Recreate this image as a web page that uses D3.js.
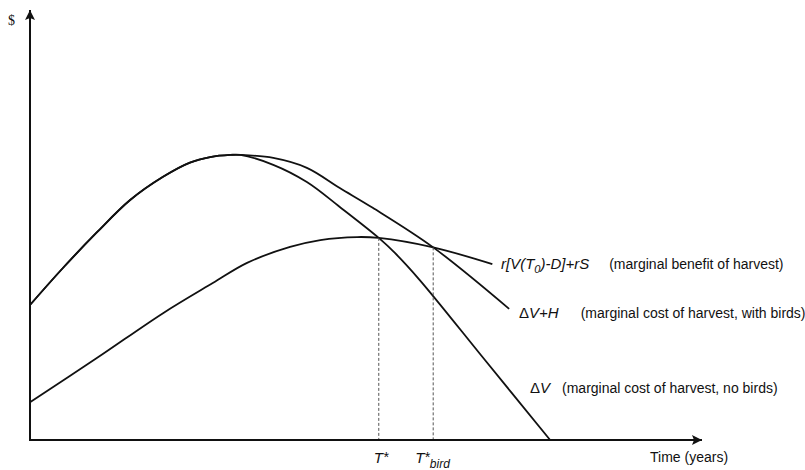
<!DOCTYPE html>
<html><head><meta charset="utf-8">
<script src="https://cdn.jsdelivr.net/npm/d3@7"></script>
<style>
body{margin:0;background:#fff;}
text{font-family:"Liberation Sans Narrow","Arial Narrow","Liberation Sans",sans-serif;fill:#111;}
</style></head>
<body><svg id="c" width="805" height="470"></svg>
<script>
// Time (0-100 arbitrary units) and $ (0-100 arbitrary units)
const sharedT = [0, 4.9, 9.9, 14.9, 19.8, 23.8, 26.8, 29.8, 31.3];
const sharedV = [31.4, 40.0, 48.2, 55.8, 61.2, 64.5, 65.8, 66.3, 66.3];
const dvT = [36.2, 41.2, 46.1, 51.9, 54.3, 58.0, 67.7, 77.4];
const dvV = [64.0, 60.0, 54.2, 47.0, 43.5, 37.2, 18.6, 0];
const dvhT = [36.2, 41.2, 46.1, 51.0, 60.0, 71.3];
const dvhV = [65.6, 63.3, 58.6, 54.0, 44.8, 30.5];
const benT = [0, 10.0, 19.8, 27.2, 32.3, 38.7, 43.2, 48.7, 51.9, 60.0, 68.8];
const benV = [8.8, 19.1, 29.5, 36.5, 41.2, 44.9, 46.5, 47.2, 47.0, 44.8, 40.9];
const tStar = 51.9, tBird = 60.0, vStar = 47.0, vBird = 44.8;
const xLabel = "Time (years)";
const yLabel = "$";

const svg = d3.select("#c");
const x = d3.scaleLinear().domain([0, 100]).range([30, 702]);
const y = d3.scaleLinear().domain([0, 100]).range([440, 10]);

const defs = svg.append("defs");
defs.append("marker").attr("id","arr").attr("viewBox","0 0 10 10")
  .attr("refX",10).attr("refY",5).attr("markerWidth",10).attr("markerHeight",10)
  .attr("markerUnits","userSpaceOnUse").attr("orient","auto")
  .append("path").attr("d","M0,0 L10,5 L0,10 L2,5 Z").attr("fill","#111");

const zip = (a,b)=>a.map((t,i)=>[t,b[i]]);
const line = d3.line().x(d=>x(d[0])).y(d=>y(d[1])).curve(d3.curveCatmullRom.alpha(0.5));
const curves = [
  zip(sharedT.concat(dvT), sharedV.concat(dvV)),
  zip(sharedT.concat(dvhT), sharedV.concat(dvhV)),
  zip(benT, benV)
];
svg.selectAll("path.curve").data(curves).join("path").attr("class","curve")
  .attr("d", line).attr("fill","none").attr("stroke","#111").attr("stroke-width",1.8);

// dashed drop lines
svg.selectAll("line.drop").data([[tStar,vStar],[tBird,vBird]]).join("line").attr("class","drop")
  .attr("x1",d=>x(d[0])).attr("x2",d=>x(d[0])).attr("y1",d=>y(d[1])).attr("y2",y(0))
  .attr("stroke","#555").attr("stroke-width",1).attr("stroke-dasharray","3,2");

// axes
svg.append("line").attr("x1",x(0)).attr("y1",y(0)).attr("x2",x(0)).attr("y2",y(100))
  .attr("stroke","#111").attr("stroke-width",2).attr("marker-end","url(#arr)");
svg.append("line").attr("x1",x(0)-1).attr("y1",y(0)).attr("x2",x(100)).attr("y2",y(0))
  .attr("stroke","#111").attr("stroke-width",2).attr("marker-end","url(#arr)");

svg.append("text").attr("x",8).attr("y",25).style("font-family","'Liberation Serif',serif").style("font-size","14px").text(yLabel);
svg.append("text").attr("x",650).attr("y",462).style("font-size","14px").text(xLabel);

// T labels
const tl = svg.append("text").attr("x",x(tStar)-5).attr("y",463).style("font-size","15px").style("font-style","italic");
tl.append("tspan").text("T");
tl.append("tspan").attr("dy",-1).style("font-size","14px").text("*");
const tb = svg.append("text").attr("x",x(tBird)-18).attr("y",463).style("font-size","15px").style("font-style","italic");
tb.append("tspan").text("T");
tb.append("tspan").attr("dy",-1).style("font-size","14px").text("*");
tb.append("tspan").attr("dy",6).style("font-size","12px").text("bird");

// curve labels
const l1 = svg.append("text").attr("x",501).attr("y",269).style("font-size","15px");
l1.append("tspan").style("font-style","italic").text("r[V(T");
l1.append("tspan").style("font-style","italic").style("font-size","11px").attr("dy",4).text("0");
l1.append("tspan").style("font-style","italic").attr("dy",-4).text(")-D]+rS");
l1.append("tspan").attr("dx",20).style("font-size","14px").text("(marginal benefit of harvest)");

const l2 = svg.append("text").attr("x",519).attr("y",318).style("font-size","15px");
l2.append("tspan").text("Δ");
l2.append("tspan").style("font-style","italic").text("V+H");
l2.append("tspan").attr("dx",22).style("font-size","14px").text("(marginal cost of harvest, with birds)");

const l3 = svg.append("text").attr("x",530).attr("y",393).style("font-size","15px");
l3.append("tspan").text("Δ");
l3.append("tspan").style("font-style","italic").text("V");
l3.append("tspan").attr("dx",12).style("font-size","14px").text("(marginal cost of harvest, no birds)");
</script></body></html>
